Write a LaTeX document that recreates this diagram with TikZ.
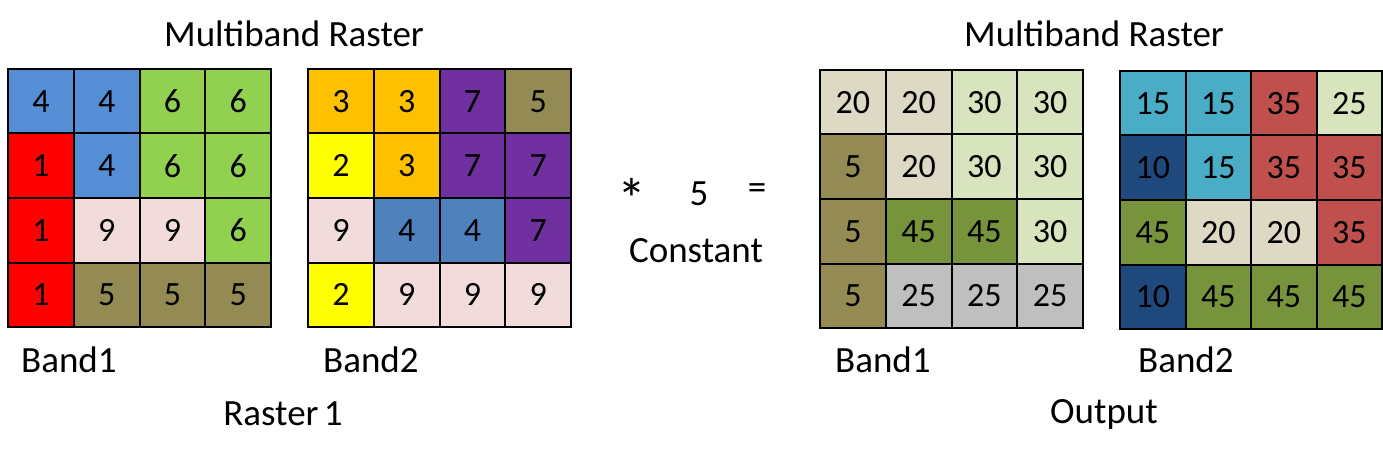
\documentclass[tikz,border=0pt]{standalone}
\usepackage{fontspec}
\setmainfont{Carlito}
\definecolor{cBlue}{HTML}{558ED5}
\definecolor{cGreen}{HTML}{92D050}
\definecolor{cRed}{HTML}{FF0000}
\definecolor{cPink}{HTML}{F2DCDB}
\definecolor{cOlive}{HTML}{948A54}
\definecolor{cOrange}{HTML}{FFC000}
\definecolor{cPurple}{HTML}{7030A0}
\definecolor{cYellow}{HTML}{FFFF00}
\definecolor{cSteel}{HTML}{4F81BD}
\definecolor{cTan}{HTML}{DDD9C4}
\definecolor{cLtGreen}{HTML}{D7E4BD}
\definecolor{cDkGreen}{HTML}{77933C}
\definecolor{cGray}{HTML}{BFBFBF}
\definecolor{cCyan}{HTML}{4BACC6}
\definecolor{cBrick}{HTML}{C0504D}
\definecolor{cNavy}{HTML}{1F497D}
\newcommand{\mygrid}[6]{%
  \foreach \c/\v [count=\k from 0] in {#6}{%
    \pgfmathtruncatemacro\rr{\k/4}%
    \pgfmathtruncatemacro\qq{mod(\k,4)}%
    \node[cell, fill=\c, minimum width=#4pt, minimum height=#5pt]
      (#1-\rr-\qq) at ({#2+(\qq+0.5)*#4}, {#3+(\rr+0.5)*#5}) {\v};
  }}
\begin{document}
\begin{tikzpicture}[x=1pt,y=-1pt,
  cell/.style={draw=black, line width=2pt, inner sep=0pt, font=\fontsize{34}{40}\selectfont},
  lbl/.style={inner sep=0pt, font=\fontsize{37}{44}\selectfont}]
\useasboundingbox (0,0) rectangle (1383,457);
\mygrid{a}{8}{69}{65.75}{64.5}{cBlue/4,cBlue/4,cGreen/6,cGreen/6,
  cRed/1,cBlue/4,cGreen/6,cGreen/6,
  cRed/1,cPink/9,cPink/9,cGreen/6,
  cRed/1,cOlive/5,cOlive/5,cOlive/5}
\mygrid{b}{308}{69}{65.75}{64.5}{cOrange/3,cOrange/3,cPurple/7,cOlive/5,
  cYellow/2,cOrange/3,cPurple/7,cPurple/7,
  cPink/9,cSteel/4,cSteel/4,cPurple/7,
  cYellow/2,cPink/9,cPink/9,cPink/9}
\mygrid{c}{820}{70}{65.75}{64.5}{cTan/20,cTan/20,cLtGreen/30,cLtGreen/30,
  cOlive/5,cTan/20,cLtGreen/30,cLtGreen/30,
  cOlive/5,cDkGreen/45,cDkGreen/45,cLtGreen/30,
  cOlive/5,cGray/25,cGray/25,cGray/25}
\mygrid{d}{1120}{71}{65.5}{64.5}{cCyan/15,cCyan/15,cBrick/35,cLtGreen/25,
  cNavy/10,cCyan/15,cBrick/35,cBrick/35,
  cDkGreen/45,cTan/20,cTan/20,cBrick/35,
  cNavy/10,cDkGreen/45,cDkGreen/45,cDkGreen/45}
\node[lbl, anchor=base] (t1) at (294,47) {Multiband Raster};
\node[lbl, anchor=base] (t2) at (1094,47) {Multiband Raster};
\node[lbl, anchor=base west] (b1) at (21,372) {Band1};
\node[lbl, anchor=base west] (b2) at (323,372) {Band2};
\node[lbl, anchor=base] (r1) at (283,425) {Raster\hspace{-3pt} 1};
\node[lbl, anchor=base west] (b3) at (835,372) {Band1};
\node[lbl, anchor=base west] (b4) at (1138,372) {Band2};
\node[lbl, anchor=base] (out) at (1104,423) {Output};
\node[lbl, anchor=center, font=\fontsize{58}{60}\selectfont] (star) at (632,199) {*};
\node[lbl, anchor=base] (five) at (699,205) {5};
\node[lbl, anchor=center] (eq) at (757,192) {=};
\node[lbl, anchor=base] (const) at (696,262) {Constant};
\end{tikzpicture}
\end{document}
